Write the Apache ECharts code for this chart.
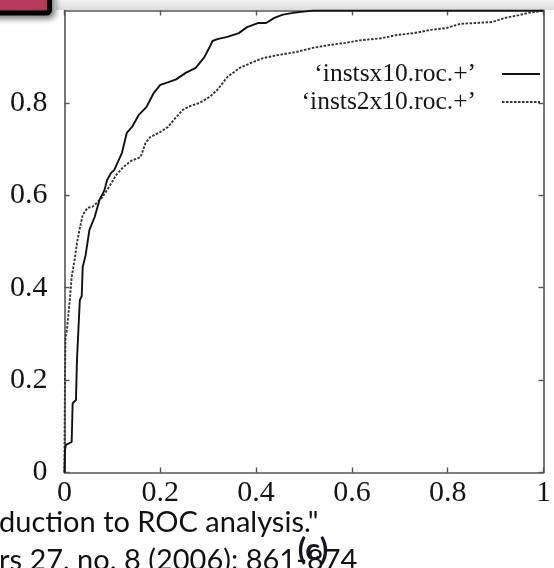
<!DOCTYPE html>
<html>
<head>
<meta charset="utf-8">
<script src="https://cdn.jsdelivr.net/npm/echarts@6/dist/echarts.min.js"></script>
<style>
  html, body { margin: 0; padding: 0; background: #fff; }
  #chart { width: 554px; height: 568px; }
</style>
</head>
<body>
<div id="chart"></div>
<script>
// ROC curves: false positive rate (x) against true positive rate (y)
const seriesNames = ['\u2018instsx10.roc.+\u2019', '\u2018insts2x10.roc.+\u2019'];

const fprA = [0, 0.001, 0.003, 0.015, 0.017, 0.024, 0.026, 0.030, 0.032, 0.036, 0.038, 0.044, 0.052, 0.063, 0.073, 0.083, 0.089, 0.097, 0.104, 0.120, 0.130, 0.141, 0.155, 0.171, 0.186, 0.200, 0.217, 0.233, 0.253, 0.274, 0.292, 0.303, 0.309, 0.319, 0.340, 0.364, 0.381, 0.405, 0.421, 0.438, 0.456, 0.477, 0.504, 0.520, 1];
const tprA = [0, 0.049, 0.060, 0.066, 0.150, 0.157, 0.244, 0.248, 0.373, 0.382, 0.445, 0.470, 0.525, 0.553, 0.590, 0.610, 0.633, 0.648, 0.655, 0.692, 0.735, 0.748, 0.774, 0.791, 0.821, 0.839, 0.845, 0.851, 0.865, 0.876, 0.899, 0.921, 0.934, 0.938, 0.943, 0.951, 0.964, 0.973, 0.973, 0.984, 0.991, 0.995, 0.998, 1.000, 1];

const fprB = [0, 0, 0.001, 0.002, 0.005, 0.011, 0.015, 0.022, 0.026, 0.032, 0.038, 0.048, 0.058, 0.067, 0.079, 0.093, 0.108, 0.122, 0.138, 0.159, 0.169, 0.179, 0.200, 0.216, 0.233, 0.247, 0.262, 0.282, 0.303, 0.319, 0.340, 0.366, 0.395, 0.415, 0.448, 0.483, 0.518, 0.551, 0.586, 0.621, 0.662, 0.694, 0.729, 0.764, 0.797, 0.826, 0.858, 0.893, 0.920, 0.949, 0.969, 0.985, 1];
const tprB = [0, 0.055, 0.200, 0.293, 0.308, 0.373, 0.423, 0.466, 0.497, 0.529, 0.557, 0.573, 0.575, 0.583, 0.596, 0.618, 0.644, 0.660, 0.674, 0.683, 0.713, 0.726, 0.737, 0.748, 0.769, 0.785, 0.793, 0.800, 0.813, 0.828, 0.856, 0.876, 0.889, 0.897, 0.904, 0.910, 0.919, 0.925, 0.930, 0.936, 0.940, 0.947, 0.951, 0.958, 0.962, 0.971, 0.973, 0.975, 0.984, 0.990, 0.995, 0.997, 1];

const axisRange = { min: 0, max: 1, step: 0.2 };

const captionLines = ['duction to ROC analysis."', 'rs 27, no. 8 (2006): 861-874'];
const panelLabel = '(c)';

const pairs = (xs, ys) => xs.map((x, i) => [x, ys[i]]);

const serif = '"Liberation Serif", "Times New Roman", serif';
const frameColor = '#555';
const textColor = '#151515';

function frameAxis(extra) {
  return Object.assign({
    type: 'value',
    min: axisRange.min,
    max: axisRange.max,
    interval: axisRange.step,
    splitLine: { show: false },
    axisLine: { show: true, onZero: false, lineStyle: { color: frameColor, width: 1.6 } },
    axisTick: { show: true, inside: true, length: 5, lineStyle: { color: frameColor, width: 1.4 } },
    axisLabel: { show: false }
  }, extra);
}

const labelStyle = { show: true, fontFamily: serif, fontSize: 30, color: textColor };

function legendFor(name, top) {
  return {
    data: [name],
    orient: 'vertical',
    align: 'right',
    right: 13,
    top: top,
    padding: 0,
    itemWidth: 38,
    itemHeight: 14,
    itemStyle: { opacity: 0 },
    lineStyle: { width: 2 },
    selectedMode: false,
    textStyle: { fontFamily: serif, fontSize: 25.5, color: textColor, padding: [0, 21, 0, 0] }
  };
}

const chart = echarts.init(document.getElementById('chart'), null, { renderer: 'canvas' });

chart.setOption({
  animation: false,
  backgroundColor: '#fff',
  grid: { left: 64.5, top: 10.5, width: 487.5, height: 462, containLabel: false },
  xAxis: [
    frameAxis({ position: 'bottom', axisLabel: Object.assign({ margin: 6 }, labelStyle) }),
    frameAxis({ position: 'top' })
  ],
  yAxis: [
    frameAxis({ position: 'left', axisLabel: Object.assign({ margin: 17, showMaxLabel: false }, labelStyle) }),
    frameAxis({ position: 'right' })
  ],
  legend: [legendFor(seriesNames[0], 61), legendFor(seriesNames[1], 89)],
  series: [
    {
      name: seriesNames[0],
      type: 'line',
      data: pairs(fprA, tprA),
      symbol: 'none',
      lineStyle: { color: '#111', width: 1.9 },
      itemStyle: { color: '#111' },
      z: 3
    },
    {
      name: seriesNames[1],
      type: 'line',
      data: pairs(fprB, tprB),
      symbol: 'none',
      lineStyle: { color: '#333', width: 1.9, type: [2.5, 1.5] },
      itemStyle: { color: '#333' },
      z: 2
    }
  ],
  graphic: [
    {
      type: 'rect',
      left: 56, top: 0, z: -1,
      shape: { width: 498, height: 10 },
      style: {
        fill: new echarts.graphic.LinearGradient(0, 0, 0, 1, [
          { offset: 0, color: '#f2f2f2' },
          { offset: 1, color: '#dcdcdc' }
        ])
      },
      silent: true
    },
    {
      type: 'rect',
      x: 0, y: 0, z: 10,
      shape: { x: -12, y: -12, width: 61.5, height: 25, r: 3 },
      style: {
        fill: '#b63d5c', stroke: '#000', lineWidth: 5,
        shadowBlur: 6, shadowColor: 'rgba(0,0,0,0.45)', shadowOffsetX: 3, shadowOffsetY: 3
      },
      silent: true
    },
    {
      type: 'text',
      x: -1, y: 523, z: 10,
      style: { text: captionLines[0], font: '29px Lato, "Noto Sans", sans-serif', fill: '#111', verticalAlign: 'middle', align: 'left' },
      silent: true
    },
    {
      type: 'text',
      x: -1, y: 561, z: 10,
      style: { text: captionLines[1], font: '29px Lato, "Noto Sans", sans-serif', fill: '#111', verticalAlign: 'middle', align: 'left' },
      silent: true
    },
    {
      type: 'text',
      x: 313, y: 550, z: 11,
      style: { text: panelLabel, font: 'bold 31px Lato, "Noto Sans", sans-serif', fill: '#161621', verticalAlign: 'middle', align: 'center' },
      silent: true
    }
  ]
});
</script>
</body>
</html>
